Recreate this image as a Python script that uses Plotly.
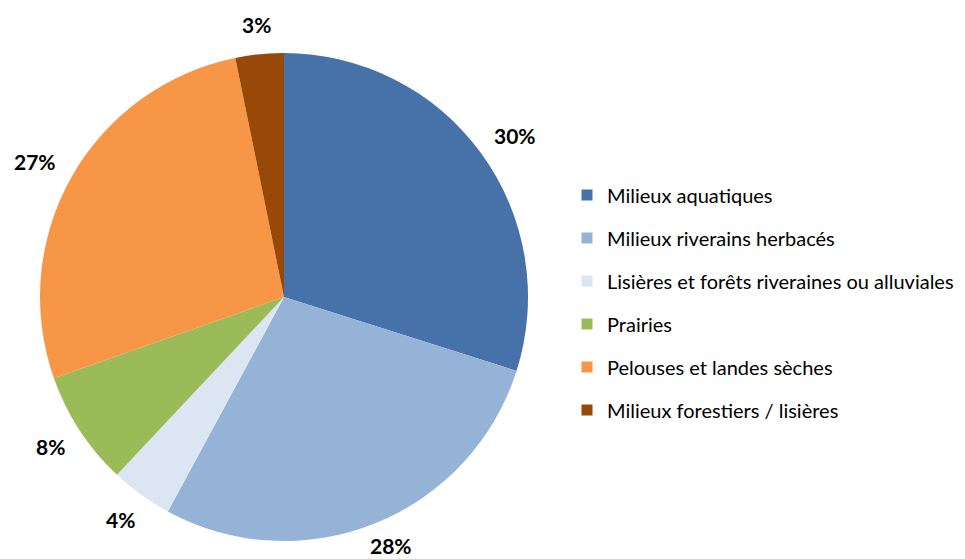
import math
import plotly.graph_objects as go

labels = ["Milieux aquatiques", "Milieux riverains herbacés",
          "Lisières et forêts riveraines ou alluviales", "Prairies",
          "Pelouses et landes sèches", "Milieux forestiers / lisières"]
values = [29.9, 28.0, 4.1, 7.6, 27.2, 3.2]
colors = ["#4672A9", "#95B3D7", "#DCE6F2", "#9BBB59", "#F79646", "#984807"]

# page has an 8px body margin: figure coordinates are page minus 8
W, H = 957, 551
cx, cy, r = 276, 289, 244

fig = go.Figure()
fig.add_trace(go.Pie(
    labels=labels, values=values, sort=False, direction="clockwise", rotation=0,
    marker=dict(colors=colors, line=dict(width=0)),
    textinfo="none", showlegend=False, hole=0,
    domain=dict(x=[(cx - r) / W, (cx + r) / W], y=[1 - (cy + r) / H, 1 - (cy - r) / H]),
))

# outside-end percentage labels, placed from the slice mid-angles
total = sum(values)
cum = 0.0
gap, fs = 20, 21
for v in values:
    mid = (cum + v / 2) / total * 2 * math.pi
    cum += v
    txt = f"{round(v / total * 100)}%"
    ux, uy = math.sin(mid), -math.cos(mid)
    w, h = 14.7 * len(txt), 20
    px = cx + (r + gap) * ux + w / 2 * ux
    py = min(cy + (r + gap) * uy + h / 2 * uy, H - 14)
    fig.add_annotation(x=px / W, y=1 - py / H, xref="paper", yref="paper",
                       text=txt, showarrow=False, xanchor="center", yanchor="middle",
                       font=dict(family="Lato", size=fs, color="black", weight="bold"))

for lab, col in zip(labels, colors):
    fig.add_trace(go.Scatter(
        x=[None], y=[None], mode="markers", name=lab, legendgroup=lab,
        marker=dict(symbol="square", size=11, color=col),
    ))

fig.update_layout(
    width=W, height=H, margin=dict(l=0, r=0, t=0, b=0),
    paper_bgcolor="white", plot_bgcolor="white",
    xaxis=dict(visible=False), yaxis=dict(visible=False),
    legend=dict(x=559 / W, xanchor="left", y=1 - 294.5 / H, yanchor="middle",
                font=dict(family="Lato", size=20, color="black"),
                tracegroupgap=14, itemwidth=30),
)
fig.write_html("out.html")
